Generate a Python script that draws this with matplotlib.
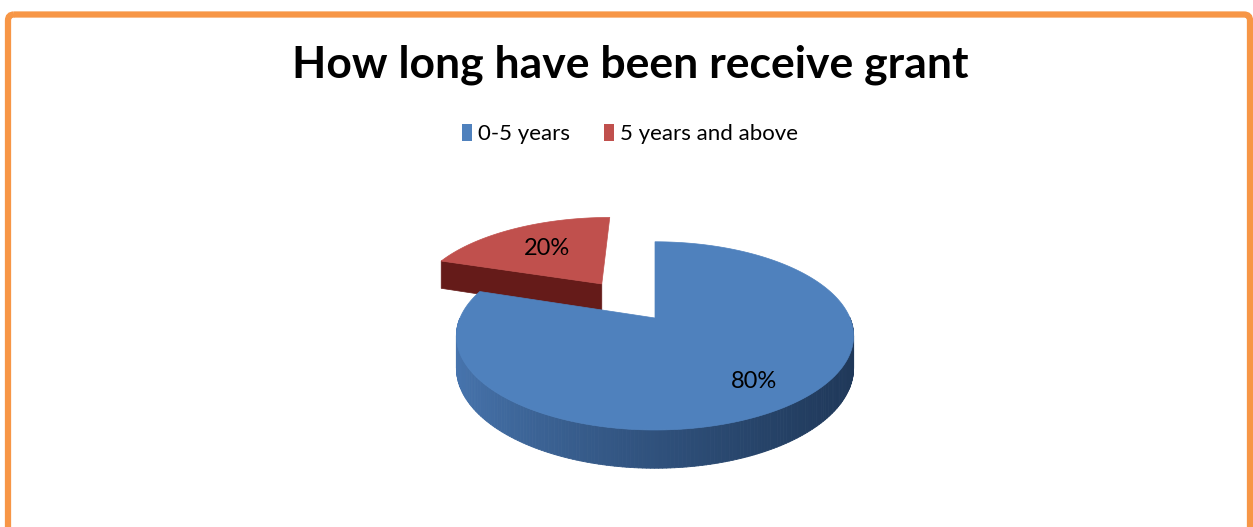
import matplotlib.pyplot as plt
import numpy as np
from matplotlib.patches import Polygon, Patch, FancyBboxPatch
from matplotlib.collections import PolyCollection
from matplotlib.colors import to_rgb

categories = ['0-5 years', '5 years and above']
shares = [80, 20]
labels = ['80%', '20%']
top_colors = ['#4F81BD', '#C0504D']
side_light = ['#4876B0', '#7A2724']
side_dark = ['#1F3859', '#651B19']
explode = [0.0, 0.5]
label_r = [0.76, 0.6]

W, H = 1253, 527
fig = plt.figure(figsize=(W / 100, H / 100), dpi=100)
ax = fig.add_axes([0, 0, 1, 1])
ax.set_xlim(0, W)
ax.set_ylim(H, 0)
ax.axis('off')

# simple perspective view of a flat disc seen from the front
CX, CY = 655, 318
RX, RY = 195, 90.7
K = 0.19          # far side shrinks
THICK = 31


def proj(x, y, z=0.0):
    w = 1 + K * y
    return CX + RX * x / w, CY - RY * y / w + THICK * z / w


def mix(c1, c2, t):
    a, b = np.array(to_rgb(c1)), np.array(to_rgb(c2))
    return tuple(a + (b - a) * t)


# slices start at 12 o'clock and run clockwise, like a spreadsheet pie
fracs = np.array(shares) / sum(shares)
starts = 90 - 360 * np.concatenate([[0], np.cumsum(fracs)[:-1]])
slices = []
for i, f in enumerate(fracs):
    a1 = starts[i]
    a0 = a1 - 360 * f
    mid = np.deg2rad((a0 + a1) / 2)
    ox, oy = explode[i] * np.cos(mid), explode[i] * np.sin(mid)
    slices.append((i, a0, a1, mid, ox, oy))

# far slices first
slices.sort(key=lambda s: -s[5])

for i, a0, a1, mid, ox, oy in slices:
    ang = np.deg2rad(np.linspace(a0, a1, 300))
    rx, ry = ox + np.cos(ang), oy + np.sin(ang)

    # radial walls facing the viewer
    for a, sgn in ((a0, -1), (a1, 1)):
        na = np.deg2rad(a + sgn * 90)
        if np.sin(na) < -1e-6:
            ex, ey = ox + np.cos(np.deg2rad(a)), oy + np.sin(np.deg2rad(a))
            pts = [proj(ox, oy, 0), proj(ex, ey, 0), proj(ex, ey, 1), proj(ox, oy, 1)]
            ax.add_patch(Polygon(pts, closed=True, fc=side_dark[i], ec=side_dark[i], lw=0.5))

    # outer rim on the near half
    quads, cols = [], []
    for j in range(len(ang) - 1):
        s = np.sin((ang[j] + ang[j + 1]) / 2)
        if s >= 0:
            continue
        p0, p1 = proj(rx[j], ry[j]), proj(rx[j + 1], ry[j + 1])
        q1, q0 = proj(rx[j + 1], ry[j + 1], 1), proj(rx[j], ry[j], 1)
        quads.append([p0, p1, q1, q0])
        t = (1 - np.cos((ang[j] + ang[j + 1]) / 2)) / 2
        cols.append(mix(side_dark[i], side_light[i], t ** 1.3))
    if quads:
        ax.add_collection(PolyCollection(quads, facecolors=cols, edgecolors=cols, lw=0.6))

    # top face
    top = [proj(ox, oy)] + [proj(x, y) for x, y in zip(rx, ry)]
    ax.add_patch(Polygon(top, closed=True, fc=top_colors[i], ec=top_colors[i], lw=0.5))

    lr = label_r[i]
    lx, ly = proj(ox + lr * np.cos(mid), oy + lr * np.sin(mid))
    ax.text(lx, ly, labels[i], ha='center', va='center', fontsize=17,
            family='Lato', color='black')

fig.text(0.503, 1 - 65 / H, 'How long have been receive grant', ha='center', va='center',
         fontsize=32, fontweight='bold', family='Lato')

handles = [Patch(facecolor=c, edgecolor='none') for c in top_colors]
fig.legend(handles, categories, loc='center', bbox_to_anchor=(0.503, 1 - 134 / H), ncol=2,
           frameon=False, handlelength=0.45, handleheight=0.85, handletextpad=0.25,
           columnspacing=1.55, prop={'family': 'Lato', 'size': 16})

# orange frame with rounded corners, running off the bottom edge
frame = FancyBboxPatch((8, 14.5), W - 8 - 3, H + 40, boxstyle='round,pad=0,rounding_size=6',
                       fc='none', ec='#F79646', lw=4.5)
ax.add_patch(frame)

fig.savefig('out.png', dpi=100)
